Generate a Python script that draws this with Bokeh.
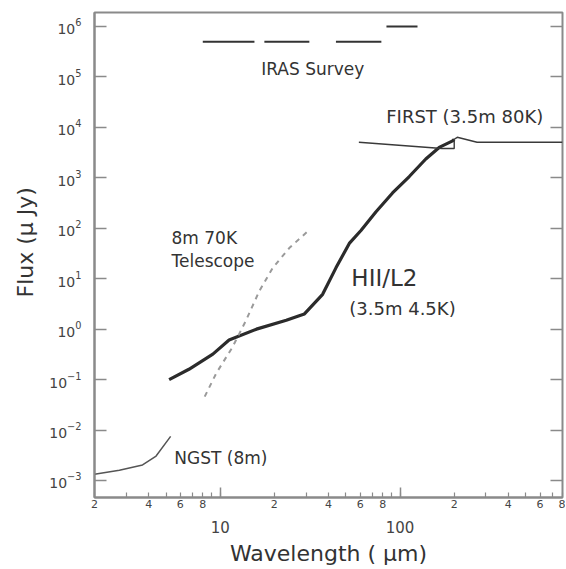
from bokeh.plotting import figure
from bokeh.models import (LogAxis, FixedTicker, CustomJSTickFormatter, Label,
                          Range1d, LogTickFormatter, Title)
from bokeh.embed import file_html
from bokeh.resources import INLINE

# ---------------- data ----------------
hii_wavelength = [5.2, 6.7, 9.1, 11.2, 15.9, 23.3, 27.5, 29.4, 37.1, 44.0, 52.2, 60.6,
                  73.5, 90.8, 112.5, 139.0, 165.0, 196.0, 200.0]
hii_flux = [0.10, 0.16, 0.32, 0.61, 1.0, 1.5, 1.85, 2.0, 4.9, 16.4, 50.0, 90.0,
            212.0, 500.0, 1060.0, 2360.0, 4000.0, 5400.0, 5800.0]

tel_wavelength = [8.2, 9.5, 11.7, 13.9, 16.5, 19.6, 24.2, 31.3]
tel_flux = [0.046, 0.133, 0.44, 1.48, 5.7, 16.4, 40.5, 93.0]

ngst_wavelength = [2.0, 2.75, 3.7, 4.4, 5.3]
ngst_flux = [0.00133, 0.00159, 0.00203, 0.00305, 0.0075]

first_wavelength = [59.0, 171.0, 200.0, 200.0, 208.0, 268.0, 800.0]
first_flux = [5060.0, 3800.0, 3800.0, 5800.0, 6350.0, 5060.0, 5060.0]

iras_start = [8.0, 17.6, 44.0, 84.0]
iras_end = [15.5, 31.3, 78.7, 125.0]
iras_flux = [5.0e5, 5.0e5, 5.0e5, 1.0e6]

y_ticks = [1e-3, 1e-2, 1e-1, 1e0, 1e1, 1e2, 1e3, 1e4, 1e5, 1e6]
x_ticks = [2, 3, 4, 5, 6, 7, 8, 9, 10, 20, 30, 40, 50, 60, 70, 80, 90,
           100, 200, 300, 400, 500, 600, 700, 800]
x_decade_labels = [10, 100]

FONT = "DejaVu Sans"
AX = "#8a8a8a"
INK = "#333333"

p = figure(width=565, height=568, x_axis_type="log", y_axis_type="log",
           x_range=Range1d(2, 800), y_range=Range1d(4.6e-4, 1.89e6),
           output_backend="svg", toolbar_location=None,
           min_border_left=94, min_border_right=3, min_border_top=12,
           min_border_bottom=69)
p.background_fill_color = "white"
p.border_fill_color = "white"
p.outline_line_color = AX
p.outline_line_width = 2
p.xgrid.visible = False
p.ygrid.visible = False

# ---- left axis ----
ya = p.yaxis[0]
ya.ticker = FixedTicker(ticks=y_ticks)
ya.formatter = LogTickFormatter()
ya.major_tick_in = 12
ya.major_tick_out = 0
ya.minor_tick_line_color = None
ya.axis_line_color = AX
ya.axis_line_width = 2
ya.major_tick_line_color = AX
ya.major_tick_line_width = 1.5
ya.major_label_text_font = FONT
ya.major_label_text_font_size = "14px"
ya.major_label_text_color = "#444444"
ya.major_label_standoff = 13

# y title: a vertical title on the left, shifted up from the bottom of the frame
p.add_layout(Title(text="Flux (\u03bc Jy)", align="left", offset=200,
                   text_font=FONT, text_font_size="22px", text_font_style="normal",
                   text_color=INK, standoff=18), "left")

# ---- right axis (ticks only) ----
ra = LogAxis(ticker=FixedTicker(ticks=y_ticks),
             formatter=CustomJSTickFormatter(code="return '';"),
             major_tick_in=12, major_tick_out=0, major_label_standoff=0,
             minor_tick_line_color=None, axis_line_color=None,
             major_tick_line_color=AX, major_tick_line_width=1.5)
p.add_layout(ra, "right")

# ---- bottom axis: small digit labels ----
xa = p.xaxis[0]
xa.ticker = FixedTicker(ticks=x_ticks, minor_ticks=x_decade_labels)
xa.formatter = CustomJSTickFormatter(code="""
const e = Math.floor(Math.log10(tick) + 1e-9);
const d = Math.round(tick / Math.pow(10, e));
return (d == 2 || d == 4 || d == 6 || d == 8) ? String(d) : "";
""")
xa.major_tick_in = 5
xa.major_tick_out = 0
xa.minor_tick_in = 10
xa.minor_tick_out = 0
xa.axis_line_color = AX
xa.axis_line_width = 2
xa.major_tick_line_color = AX
xa.minor_tick_line_color = AX
xa.major_tick_line_width = 1.2
xa.minor_tick_line_width = 1.5
xa.major_label_text_font = FONT
xa.major_label_text_font_size = "11px"
xa.major_label_text_color = "#444444"
xa.major_label_standoff = 2

# ---- bottom axis 2: decade labels + title ----
xb = LogAxis(ticker=FixedTicker(ticks=x_decade_labels),
             formatter=CustomJSTickFormatter(code="return tick.toFixed(0);"),
             axis_line_color=None, major_tick_line_color=None,
             minor_tick_line_color=None, major_tick_in=0, major_tick_out=0,
             major_label_standoff=10,
             major_label_text_font=FONT, major_label_text_font_size="15px",
             major_label_text_color="#444444",
             axis_label="Wavelength ( \u03bcm)", axis_label_text_font=FONT,
             axis_label_text_font_size="22px", axis_label_text_font_style="normal",
             axis_label_text_color=INK, axis_label_standoff=5)
p.add_layout(xb, "below")

# ---------------- curves ----------------
p.line(hii_wavelength, hii_flux, line_color="#2b2b2b", line_width=3.2,
       line_join="round")
p.line(tel_wavelength, tel_flux, line_color="#9a9a9a", line_width=2, line_dash="5 5")
p.line(ngst_wavelength, ngst_flux, line_color="#555555", line_width=1.5)
p.line(first_wavelength, first_flux, line_color="#3a3a3a", line_width=1.4)
p.segment(x0=iras_start, y0=iras_flux, x1=iras_end, y1=iras_flux,
          line_color="#333333", line_width=2)

# ---------------- annotations ----------------
def lab(x, y, text, size="17px"):
    p.add_layout(Label(x=x, y=y, text=text, text_font=FONT, text_font_size=size,
                       text_color=INK, text_baseline="middle", text_align="left"))

lab(16.9, 1.42e5, "IRAS Survey")
lab(83.8, 1.65e4, "FIRST (3.5m 80K)", "18px")
lab(5.36, 63.5, "8m 70K")
lab(5.36, 22.3, "Telescope")
lab(53.6, 10.5, "HII/L2", "23px")
lab(52.2, 2.6, "(3.5m 4.5K)", "18px")
lab(5.56, 0.00284, "NGST (8m)")

open("out.html", "w").write(file_html(p, INLINE))
